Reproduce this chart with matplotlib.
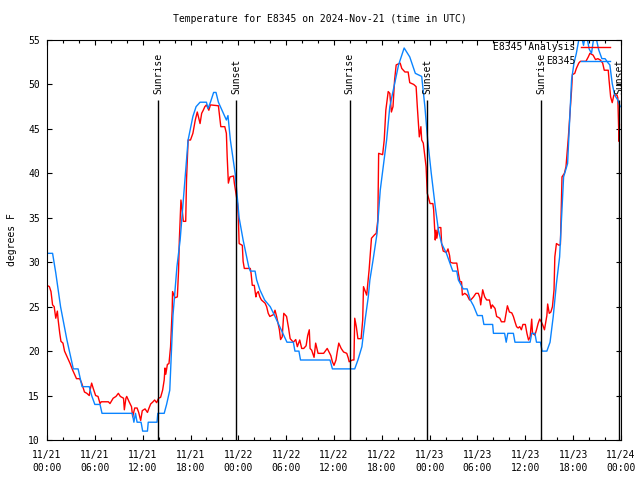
import numpy as np
import matplotlib.pyplot as plt

# hours since 2024-11-21 00:00 UTC
analysis_hours = [0, 0.7, 1.1, 1.7, 2.5, 3.3, 3.9, 4.2, 4.4, 5.3, 5.6, 6.0, 6.65, 6.9, 10.7, 10.9, 11.1, 11.3,
                  11.8, 12.0, 12.6, 12.7, 13.8, 13.9, 14.7, 15.0, 15.4, 15.8, 16.3, 16.7, 17.1, 17.7, 18.3,
                  18.7, 19.2, 20.0, 20.2, 20.5, 20.9, 21.2, 21.5, 22.0, 22.5, 22.7, 23.0, 23.6, 24.1, 24.6,
                  25.3, 25.5, 26.1, 26.3, 26.7, 27.3, 28.0, 28.6, 29.2, 29.6, 30.1, 30.9, 31.1, 31.6, 31.8,
                  35.5, 35.8, 38.6, 39.0, 39.5, 39.9, 40.3, 40.5, 40.9, 41.4, 41.8, 42.6, 43.0, 43.7, 44.1,
                  44.8, 45.5, 46.2, 47.0, 47.4, 47.75, 48.2, 48.7, 49.1, 49.5, 50.1, 50.5, 50.9, 51.4, 51.6,
                  52.2, 52.7, 53.1, 53.5, 54.0, 54.6, 54.8, 55.9, 56.0, 57.4, 57.6, 57.8, 58.5, 58.7, 60.6,
                  60.8, 61.2, 61.4, 61.9, 62.1, 62.7, 63.1, 63.5, 63.9, 64.3, 64.8, 65.3, 65.5, 65.8, 66.1,
                  66.4, 66.9, 67.3, 67.6, 68.0, 68.3, 68.7, 69.2, 69.6, 70.0, 70.4, 70.6, 70.9, 71.2, 71.6,
                  71.9]
analysis_temps = [31.0, 31.0, 28.8, 25.0, 21.25, 18.0, 18.0, 16.8, 16.0, 16.0, 15.0, 14.0, 14.0, 13.0, 13.0,
                  12.0, 13.0, 12.0, 12.0, 11.0, 11.0, 12.0, 12.0, 13.0, 13.0, 14.0, 15.6, 24.0, 29.5, 32.5,
                  37.0, 43.75, 46.4, 47.5, 48.0, 48.0, 47.3, 48.0, 49.1, 49.1, 48.0, 47.0, 46.0, 46.5, 43.75,
                  40.0, 35.0, 32.5, 29.5, 29.0, 29.0, 28.0, 26.9, 25.75, 25.0, 23.9, 22.75, 22.0, 21.0, 21.0,
                  20.0, 20.0, 19.0, 19.0, 18.0, 18.0, 19.0, 20.5, 23.5, 26.1, 28.0, 30.25, 33.25, 38.1, 43.75,
                  47.5, 50.5, 52.2, 54.1, 53.1, 51.25, 50.9, 47.5, 43.75, 40.0, 36.25, 33.6, 32.1, 31.0, 30.0,
                  29.0, 29.0, 28.0, 27.0, 27.0, 25.75, 25.1, 24.0, 24.0, 23.0, 23.0, 22.0, 22.0, 21.0, 22.0,
                  22.0, 21.0, 21.0, 22.0, 22.0, 21.0, 21.0, 20.0, 20.0, 21.0, 23.9, 27.6, 30.6, 39.6, 41.1,
                  44.9, 50.5, 52.4, 53.5, 56.0, 54.4, 56.0, 54.0, 53.5, 56.0, 53.9, 52.9, 52.9, 52.4, 52.2,
                  50.1, 48.8, 48.25, 47.5]

obs_hours = [0, 0.3, 0.5, 0.7, 0.9, 1.1, 1.3, 1.4, 1.6, 1.75, 2.0, 2.2, 2.5, 2.9, 3.2, 3.4, 3.7, 4.1, 4.35,
             4.7, 5.0, 5.3, 5.4, 5.6, 5.8, 6.1, 6.4, 6.65, 6.8, 7.7, 7.9, 8.3, 8.65, 8.95, 9.2, 9.6, 9.7,
             9.9, 10.0, 10.3, 10.6, 10.75, 11.0, 11.3, 11.5, 11.75, 11.95, 12.3, 12.6, 12.8, 13.0, 13.3,
             13.5, 13.75, 14.0, 14.25, 14.5, 14.7, 14.8, 14.9, 15.1, 15.3, 15.5, 15.7, 15.75, 16.05, 16.35,
             16.5, 16.6, 16.8, 17.0, 17.1, 17.4, 17.5, 17.7, 18.0, 18.3, 18.6, 18.85, 19.2, 19.4, 19.6,
             19.8, 20.0, 20.3, 20.5, 21.5, 21.7, 21.8, 22.3, 22.5, 22.6, 22.75, 22.95, 23.4, 23.5, 23.9,
             24.0, 24.1, 24.5, 24.6, 24.75, 25.5, 25.6, 25.75, 26.0, 26.2, 26.3, 26.5, 26.7, 26.9, 27.35,
             27.55, 27.75, 27.95, 28.4, 28.6, 28.8, 29.15, 29.3, 29.5, 29.7, 30.05, 30.3, 30.5, 30.9, 31.2,
             31.4, 31.7, 31.95, 32.2, 32.5, 32.7, 32.9, 33.0, 33.2, 33.5, 33.7, 34.0, 34.7, 35.15, 35.6,
             35.8, 36.0, 36.25, 36.4, 36.6, 36.9, 37.2, 37.6, 37.8, 37.9, 38.3, 38.5, 38.6, 38.8, 39.0,
             39.4, 39.6, 39.7, 40.1, 40.4, 40.7, 41.1, 41.3, 41.5, 41.6, 42.1, 42.3, 42.5, 42.8, 43.0,
             43.2, 43.4, 43.6, 43.8, 44.3, 44.5, 44.9, 45.3, 45.5, 46.0, 46.3, 46.45, 46.7, 46.9, 47.0,
             47.2, 47.55, 47.7, 48.05, 48.4, 48.5, 48.7, 48.8, 48.9, 49.1, 49.4, 49.5, 49.7, 50.1, 50.3,
             50.5, 50.6, 50.9, 51.4, 51.6, 51.8, 52.0, 52.1, 52.4, 52.7, 53.0, 53.2, 53.5, 53.8, 54.1,
             54.3, 54.4, 54.65, 54.9, 55.15, 55.5, 55.7, 55.85, 56.2, 56.4, 56.8, 57.0, 57.4, 57.75, 58.0,
             58.3, 58.5, 58.7, 58.9, 59.1, 59.3, 59.5, 59.7, 60.0, 60.2, 60.4, 60.6, 60.8, 60.9, 61.2,
             61.4, 61.6, 61.8, 62.0, 62.2, 62.4, 62.7, 62.8, 63.0, 63.2, 63.4, 63.6, 63.7, 63.9, 64.25,
             64.4, 64.6, 64.9, 65.1, 65.4, 65.6, 65.8, 65.9, 66.2, 66.4, 66.7, 66.9, 67.6, 67.9, 68.1,
             68.5, 68.8, 69.1, 69.4, 69.7, 69.9, 70.4, 70.5, 70.7, 70.9, 71.1, 71.5, 71.6, 71.75, 71.8]
obs_temps = [27.4, 27.25, 26.7, 25.2, 25.0, 23.7, 24.5, 23.5, 22.0, 21.1, 20.9, 20.0, 19.4, 18.6, 17.9, 17.5,
             16.9, 16.9, 16.4, 15.4, 15.25, 15.0, 15.6, 16.4, 15.8, 15.0, 14.9, 14.1, 14.3, 14.3, 14.1, 14.7,
             14.9, 15.25, 14.9, 14.7, 13.4, 14.7, 14.9, 14.3, 13.75, 12.6, 13.6, 13.6, 13.1, 12.2, 13.3, 13.5,
             13.1, 13.6, 14.05, 14.3, 14.5, 14.2, 14.7, 14.8, 15.6, 16.75, 18.1, 17.4, 18.5, 18.6, 20.5, 24.6,
             26.7, 26.0, 26.1, 29.0, 32.5, 37.0, 35.5, 34.6, 34.6, 39.25, 43.75, 43.75, 44.5, 46.0, 46.9, 45.6,
             46.75, 47.1, 47.5, 47.7, 47.1, 47.7, 47.6, 46.0, 45.25, 45.25, 44.5, 41.9, 38.9, 39.6, 39.7, 38.9,
             36.6, 35.1, 32.1, 31.9, 30.1, 29.3, 29.3, 28.75, 27.4, 27.4, 26.1, 26.5, 26.7, 26.1, 25.75, 25.4,
             25.0, 24.25, 23.9, 24.1, 24.6, 23.9, 22.4, 21.3, 21.6, 24.25, 23.9, 22.6, 21.4, 21.0, 21.3, 20.5,
             21.25, 20.3, 20.3, 20.6, 21.75, 22.4, 20.3, 20.1, 19.3, 20.9, 19.75, 19.75, 20.3, 19.5, 18.8,
             18.4, 19.0, 19.9, 20.9, 20.3, 19.9, 19.75, 19.2, 18.8, 19.0, 19.0, 23.7, 22.75, 21.4, 21.4, 23.5,
             27.25, 26.3, 29.1, 32.7, 33.1, 33.25, 34.75, 42.25, 42.1, 43.75, 47.1, 49.2, 49.0, 46.9, 47.5,
             50.5, 52.2, 52.4, 51.8, 51.4, 51.4, 50.2, 50.0, 49.75, 47.5, 44.1, 45.25, 43.75, 43.4, 40.75,
             37.75, 36.6, 36.6, 35.9, 32.5, 33.6, 32.7, 33.9, 33.9, 32.1, 31.25, 31.1, 31.5, 30.75, 30.0,
             29.9, 29.9, 28.75, 27.8, 27.8, 26.3, 26.5, 26.3, 25.75, 25.8, 26.1, 26.5, 26.5, 26.0, 25.2, 26.9,
             26.1, 25.75, 25.75, 24.8, 25.2, 24.8, 23.9, 23.7, 23.3, 23.3, 25.1, 24.4, 24.3, 23.9, 23.3,
             22.75, 22.6, 22.75, 22.4, 23.0, 23.0, 22.0, 21.25, 21.6, 23.6, 22.0, 21.8, 22.4, 23.1, 23.6,
             23.3, 22.9, 22.4, 24.0, 25.3, 24.25, 24.4, 25.0, 26.9, 30.6, 32.1, 31.9, 32.0, 39.6, 40.0,
             40.75, 44.1, 46.75, 49.4, 51.1, 51.25, 51.8, 52.4, 52.6, 52.6, 53.1, 53.5, 53.3, 52.8, 52.9,
             52.75, 52.4, 51.6, 51.6, 50.5, 48.6, 47.95, 48.8, 48.8, 48.5, 43.6, 45.5]

sunrise_hours = [13.93, 37.97, 61.97]
sunset_hours = [23.71, 47.67, 71.75]

tick_hours = list(range(0, 73, 6))
tick_labels = ['11/21\n00:00', '11/21\n06:00', '11/21\n12:00', '11/21\n18:00',
               '11/22\n00:00', '11/22\n06:00', '11/22\n12:00', '11/22\n18:00',
               '11/23\n00:00', '11/23\n06:00', '11/23\n12:00', '11/23\n18:00',
               '11/24\n00:00']

plt.rcParams['font.family'] = 'DejaVu Sans Mono'
plt.rcParams['font.size'] = 7

fig = plt.figure(figsize=(6.4, 4.8), dpi=100)
ax = fig.add_axes([47 / 640, 40 / 480, 574 / 640, 400 / 480])

ax.plot(obs_hours, obs_temps, color='#ff0000', lw=1.0, label='E8345 Analysis')
ax.plot(analysis_hours, analysis_temps, color='#0a84ff', lw=1.0, label='E8345')

for h in sunrise_hours:
    ax.vlines(h, 10, 48.3, color='black', lw=1.0)
    ax.text(h, 48.9, 'Sunrise', rotation=90, ha='center', va='bottom')
for h in sunset_hours:
    ax.vlines(h, 10, 48.3, color='black', lw=1.0)
    ax.text(h, 48.9, 'Sunset', rotation=90, ha='center', va='bottom')

ax.set_xlim(0, 72)
ax.set_ylim(10, 55)
ax.set_xticks(tick_hours)
ax.set_xticklabels(tick_labels, linespacing=1.45)
ax.set_xticks(np.arange(0, 73, 2), minor=True)
ax.set_yticks(np.arange(10, 56, 5))
ax.tick_params(direction='in', top=True, right=True, which='both')
ax.tick_params(axis='x', pad=7)
ax.tick_params(axis='y', pad=5)
ax.tick_params(which='major', length=3.5, width=0.8)
ax.tick_params(which='minor', length=2, width=0.8)
for s in ax.spines.values():
    s.set_linewidth(0.8)

ax.set_ylabel('degrees F', labelpad=8)
fig.text(0.5, 1 - 19 / 480, 'Temperature for E8345 on 2024-Nov-21 (time in UTC)',
         ha='center', va='center')

ax.legend(loc='upper right', bbox_to_anchor=(0.981, 0.995), frameon=False, markerfirst=False,
          handlelength=3.0, handletextpad=0.6, labelspacing=0.45, borderpad=0, borderaxespad=0)

fig.savefig('out.png', dpi=100)
